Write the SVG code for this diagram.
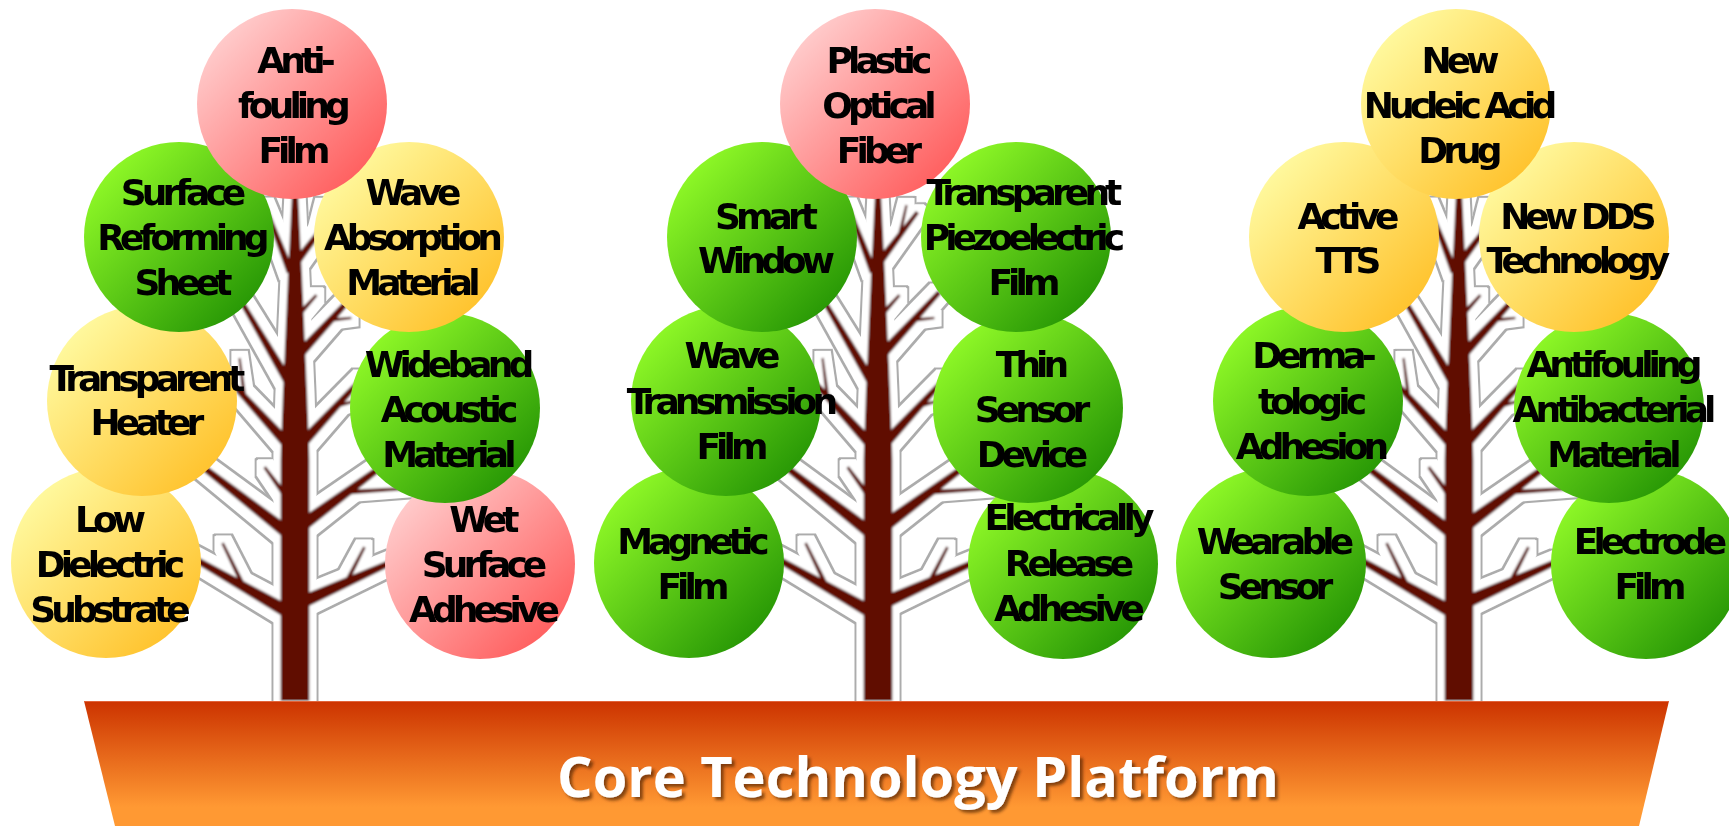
<svg xmlns="http://www.w3.org/2000/svg" xmlns:xlink="http://www.w3.org/1999/xlink" width="1729" height="826" viewBox="0 0 1729 826">
  <style>
    .lbl { font-family: "DejaVu Sans", Verdana, sans-serif; font-weight: bold; font-size: 36px; letter-spacing: -4.9px; text-anchor: middle; fill: #000; }
    .title { font-family: "Open Sans", "DejaVu Sans", sans-serif; font-weight: bold; font-size: 55px; fill: #fff; }
    .green { fill: url(#gGreen); }
    .yellow { fill: url(#gYellow); }
    .pink { fill: url(#gPink); }
    .wood { fill: #601000; }
  </style>
  <defs>
    <linearGradient id="gGreen" x1="0.15" y1="0.15" x2="0.85" y2="0.85">
      <stop offset="0" stop-color="#8cf626"/>
      <stop offset="1" stop-color="#2a9a06"/>
    </linearGradient>
    <linearGradient id="gYellow" x1="0.15" y1="0.15" x2="0.85" y2="0.85">
      <stop offset="0" stop-color="#fff89c"/>
      <stop offset="1" stop-color="#ffc430"/>
    </linearGradient>
    <linearGradient id="gPink" x1="0.15" y1="0.15" x2="0.85" y2="0.85">
      <stop offset="0" stop-color="#ffc9c9"/>
      <stop offset="1" stop-color="#ff6262"/>
    </linearGradient>
    <linearGradient id="gBase" x1="0" y1="0" x2="0" y2="1">
      <stop offset="0" stop-color="#cc3300"/>
      <stop offset="0.85" stop-color="#ff9933"/>
      <stop offset="1" stop-color="#ff9933"/>
    </linearGradient>
    <!-- white halo with a thin grey rim around the branches, soft wood edges -->
    <filter id="halo" filterUnits="userSpaceOnUse" x="0" y="120" width="1729" height="600">
      <feMorphology in="SourceAlpha" operator="dilate" radius="8.5" result="outer"/>
      <feMorphology in="SourceAlpha" operator="dilate" radius="7.3" result="inner"/>
      <feFlood flood-color="#acacac"/>
      <feComposite in2="outer" operator="in" result="ring"/>
      <feFlood flood-color="#ffffff"/>
      <feComposite in2="inner" operator="in" result="fill"/>
      <feGaussianBlur in="SourceGraphic" stdDeviation="1" result="soft"/>
      <feMerge>
        <feMergeNode in="ring"/>
        <feMergeNode in="fill"/>
        <feMergeNode in="soft"/>
      </feMerge>
    </filter>
    <filter id="shadow" x="-5%" y="-30%" width="110%" height="160%">
      <feGaussianBlur in="SourceAlpha" stdDeviation="1.5"/>
      <feOffset dx="2.5" dy="3" result="b"/>
      <feFlood flood-color="#4a2000" flood-opacity="0.65"/>
      <feComposite in2="b" operator="in"/>
      <feMerge>
        <feMergeNode/>
        <feMergeNode in="SourceGraphic"/>
      </feMerge>
    </filter>
    <!-- one bare tree, x relative to the trunk axis -->
    <g id="tree" class="wood">
      <polygon points="-3,140 -3,200 -6,262 -9,330 -12,400 -14,460 -14,701 15,701 15,460 13,400 10,330 7,262 4,200 4,140"/>
      <polygon points="-0.3,270.6 -28.1,204.3 -31.9,205.7 -7.7,273.5"/>
      <polygon points="5.2,264.4 41.6,213.2 38.4,210.8 -1.2,259.6"/>
      <polygon points="24,236.4 30.2,205.3 27.8,204.7 20,235.6"/>
      <polygon points="5.9,316.7 23.1,296 20.9,294 2.1,313.3"/>
      <polygon points="7.7,358.4 63.8,293.7 60.2,290.3 0.3,351.6"/>
      <polygon points="36.2,322 57.1,319.2 56.9,316.8 35.8,318"/>
      <polygon points="0.3,382.5 -51.8,298.7 -56.2,301.3 -8.3,387.5"/>
      <polygon points="-1.9,441.3 -68.2,373.3 -71.8,376.7 -10.1,448.7"/>
      <polygon points="-48,396.7 -53.8,357.8 -56.2,358.2 -52,397.3"/>
      <polygon points="10,448.7 69.8,379.7 66.2,376.3 2,441.3"/>
      <polygon points="42.5,407.9 64.3,401.2 63.7,398.8 41.5,404.1"/>
      <polygon points="-5.6,495.2 -28.8,466.1 -31.2,467.9 -10.4,498.8"/>
      <polygon points="-4,526.9 -96.2,459.6 -99.8,464.4 -12,537.1"/>
      <polygon points="11.9,530.2 89.8,468.4 86.2,463.6 4.1,519.8"/>
      <polygon points="55.2,494.5 120.1,489.5 119.9,486.5 54.8,489.5"/>
      <polygon points="-6.8,604.3 -110.5,549.4 -113.5,554.6 -13.2,615.7"/>
      <polygon points="-49.8,582.9 -70.7,542.3 -73.3,543.7 -54.2,585.1"/>
      <polygon points="10.7,607.9 103.2,562.7 100.8,557.3 5.3,596.1"/>
      <polygon points="54.2,583.1 71.3,547.7 68.7,546.3 49.8,580.9"/>
    </g>
  </defs>

  <rect width="1729" height="826" fill="#ffffff"/>

  <!-- trees -->
  <g id="connectors" filter="url(#halo)">
    <use xlink:href="#tree" transform="translate(294.5,0)"/>
    <use xlink:href="#tree" transform="translate(877.5,0)"/>
    <use xlink:href="#tree" transform="translate(1458.5,0)"/>
  </g>

  <!-- platform -->
  <g id="platform">
    <polygon points="84,701 1669,701 1639,826 115,826" fill="url(#gBase)"/>
    <line x1="84" y1="701.5" x2="1669" y2="701.5" stroke="#e2643a" stroke-width="1"/>
    <text class="title" x="557" y="797" textLength="722" lengthAdjust="spacingAndGlyphs" filter="url(#shadow)">Core Technology Platform</text>
  </g>

  <!-- tree 1 -->
  <g id="low-dielectric">
    <circle class="yellow" cx="106" cy="563" r="95"/>
    <text class="lbl"><tspan x="108" y="532">Low</tspan><tspan x="108" y="577">Dielectric</tspan><tspan x="108" y="622">Substrate</tspan></text>
  </g>
  <g id="wet-surface">
    <circle class="pink" cx="480" cy="564" r="95"/>
    <text class="lbl"><tspan x="482" y="532">Wet</tspan><tspan x="482" y="577">Surface</tspan><tspan x="482" y="622">Adhesive</tspan></text>
  </g>
  <g id="transparent-heater">
    <circle class="yellow" cx="142" cy="401" r="95"/>
    <text class="lbl"><tspan x="145" y="391">Transparent</tspan><tspan x="145" y="435">Heater</tspan></text>
  </g>
  <g id="wideband">
    <circle class="green" cx="445" cy="408" r="95"/>
    <text class="lbl"><tspan x="447" y="377">Wideband</tspan><tspan x="447" y="422">Acoustic</tspan><tspan x="447" y="467">Material</tspan></text>
  </g>
  <g id="surface-reforming">
    <circle class="green" cx="179" cy="237" r="95"/>
    <text class="lbl"><tspan x="181" y="205">Surface</tspan><tspan x="181" y="250">Reforming</tspan><tspan x="181" y="295">Sheet</tspan></text>
  </g>
  <g id="wave-absorption">
    <circle class="yellow" cx="409" cy="237" r="95"/>
    <text class="lbl"><tspan x="411" y="205">Wave</tspan><tspan x="411" y="250">Absorption</tspan><tspan x="411" y="295">Material</tspan></text>
  </g>
  <g id="anti-fouling">
    <circle class="pink" cx="292" cy="104" r="95"/>
    <text class="lbl"><tspan x="294" y="73">Anti-</tspan><tspan x="292" y="118">fouling</tspan><tspan x="292" y="163">Film</tspan></text>
  </g>

  <!-- tree 2 -->
  <g id="magnetic-film">
    <circle class="green" cx="689" cy="563" r="95"/>
    <text class="lbl"><tspan x="691" y="554">Magnetic</tspan><tspan x="691" y="599">Film</tspan></text>
  </g>
  <g id="electrically-release">
    <circle class="green" cx="1063" cy="564" r="95"/>
    <text class="lbl"><tspan x="1067" y="530">Electrically</tspan><tspan x="1067" y="576">Release</tspan><tspan x="1067" y="621">Adhesive</tspan></text>
  </g>
  <g id="wave-transmission">
    <circle class="green" cx="726" cy="401" r="95"/>
    <text class="lbl"><tspan x="730" y="368">Wave</tspan><tspan x="730" y="414">Transmission</tspan><tspan x="730" y="459">Film</tspan></text>
  </g>
  <g id="thin-sensor">
    <circle class="green" cx="1028" cy="408" r="95"/>
    <text class="lbl"><tspan x="1030" y="377">Thin</tspan><tspan x="1030" y="422">Sensor</tspan><tspan x="1030" y="467">Device</tspan></text>
  </g>
  <g id="smart-window">
    <circle class="green" cx="762" cy="237" r="95"/>
    <text class="lbl"><tspan x="764" y="229">Smart</tspan><tspan x="764" y="273">Window</tspan></text>
  </g>
  <g id="plastic-optical-fiber">
    <circle class="pink" cx="875" cy="104" r="95"/>
    <text class="lbl"><tspan x="877" y="73">Plastic</tspan><tspan x="877" y="118">Optical</tspan><tspan x="877" y="163">Fiber</tspan></text>
  </g>
  <g id="transparent-piezo">
    <circle class="green" cx="1016" cy="237" r="95"/>
    <text class="lbl"><tspan x="1022" y="205">Transparent</tspan><tspan x="1022" y="250">Piezoelectric</tspan><tspan x="1022" y="295">Film</tspan></text>
  </g>

  <!-- tree 3 -->
  <g id="wearable-sensor">
    <circle class="green" cx="1271" cy="563" r="95"/>
    <text class="lbl"><tspan x="1273" y="554">Wearable</tspan><tspan x="1273" y="599">Sensor</tspan></text>
  </g>
  <g id="electrode-film">
    <circle class="green" cx="1646" cy="564" r="95"/>
    <text class="lbl"><tspan x="1648" y="554">Electrode</tspan><tspan x="1648" y="599">Film</tspan></text>
  </g>
  <g id="dermatologic-adhesion">
    <circle class="green" cx="1308" cy="401" r="95"/>
    <text class="lbl"><tspan x="1312" y="368">Derma-</tspan><tspan x="1310" y="414">tologic</tspan><tspan x="1310" y="459">Adhesion</tspan></text>
  </g>
  <g id="antifouling-antibacterial">
    <circle class="green" cx="1609" cy="408" r="95"/>
    <text class="lbl"><tspan x="1612" y="377">Antifouling</tspan><tspan x="1612" y="422">Antibacterial</tspan><tspan x="1612" y="467">Material</tspan></text>
  </g>
  <g id="active-tts">
    <circle class="yellow" cx="1344" cy="237" r="95"/>
    <text class="lbl"><tspan x="1346" y="229">Active</tspan><tspan x="1346" y="273">TTS</tspan></text>
  </g>
  <g id="new-dds">
    <circle class="yellow" cx="1574" cy="237" r="95"/>
    <text class="lbl"><tspan x="1576" y="229">New DDS</tspan><tspan x="1576" y="273">Technology</tspan></text>
  </g>
  <g id="nucleic-acid-drug">
    <circle class="yellow" cx="1456" cy="104" r="95"/>
    <text class="lbl"><tspan x="1458" y="73">New</tspan><tspan x="1458" y="118">Nucleic Acid</tspan><tspan x="1458" y="163">Drug</tspan></text>
  </g>
</svg>
